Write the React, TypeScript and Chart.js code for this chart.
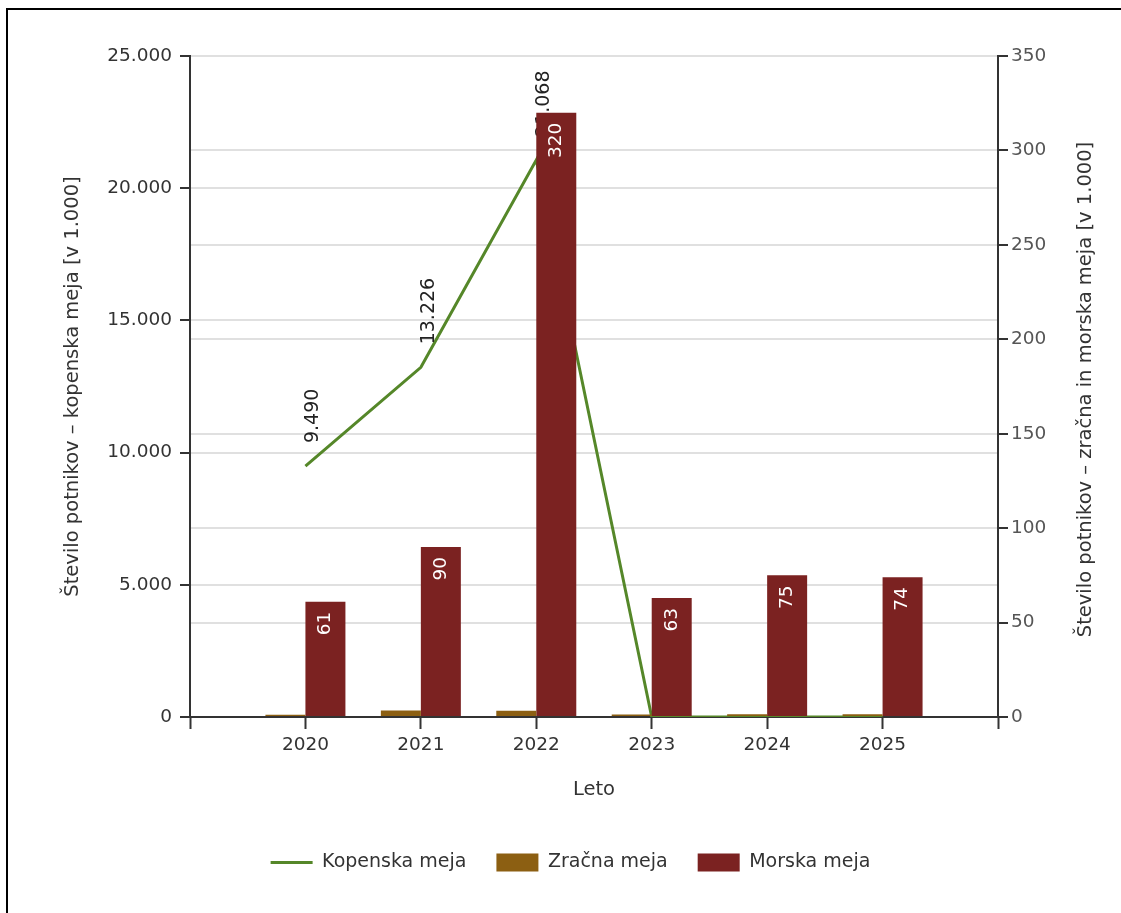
import React, { useEffect, useRef } from 'react';
import { Chart, registerables } from 'chart.js';

Chart.register(...registerables);

// ---- data ----
const years = [2020, 2021, 2022, 2023, 2024, 2025];
const kopenska = [9490, 13226, 21068, 0, 0, 0];
const zracna = [1.2, 3.4, 3.3, 1.3, 1.4, 1.4];
const morska = [61, 90, 320, 63, 75, 74];
const leftAxisMax = 25000;
const leftAxisStep = 5000;
const rightAxisMax = 350;
const rightAxisStep = 50;

const seriesNames = ['Kopenska meja', 'Zračna meja', 'Morska meja'];
const xTitle = 'Leto';
const leftTitle = 'Število potnikov – kopenska meja [v 1.000]';
const rightTitle = 'Število potnikov – zračna in morska meja [v 1.000]';

const FONT = '"DejaVu Sans", Verdana, sans-serif';
const fmt = (n: number) => String(n).replace(/\B(?=(\d{3})+(?!\d))/g, '.');

const labelsPlugin = {
  id: 'customLabels',
  afterDatasetDraw(chart: any, args: any) {
    const ds = chart.data.datasets[args.index];
    if (ds.label !== seriesNames[0]) return;
    const ctx = chart.ctx;
    ctx.save();
    ctx.font = `19px ${FONT}`;
    ctx.fillStyle = '#222';
    ctx.textAlign = 'left';
    ctx.textBaseline = 'middle';
    args.meta.data.forEach((pt: any, i: number) => {
      const v = kopenska[i];
      if (!v) return;
      ctx.save();
      ctx.translate(pt.x + 8, pt.y - 23);
      ctx.rotate(-Math.PI / 2);
      ctx.fillText(fmt(v), 0, 0);
      ctx.restore();
    });
    ctx.restore();
  },
  afterDatasetsDraw(chart: any) {
    const ctx = chart.ctx;
    const idx = chart.data.datasets.findIndex((d: any) => d.label === seriesNames[2]);
    const meta = chart.getDatasetMeta(idx);
    ctx.save();
    ctx.font = `18.5px ${FONT}`;
    ctx.fillStyle = '#ffffff';
    ctx.textAlign = 'right';
    ctx.textBaseline = 'middle';
    meta.data.forEach((bar: any, i: number) => {
      ctx.save();
      ctx.translate(bar.x, bar.y + 10);
      ctx.rotate(-Math.PI / 2);
      ctx.fillText(String(morska[i]), 0, 0);
      ctx.restore();
    });
    ctx.restore();

    // right axis title (reads bottom-to-top)
    const y1 = chart.scales.y1;
    const area = chart.chartArea;
    ctx.save();
    ctx.font = `19.5px ${FONT}`;
    ctx.fillStyle = '#333';
    ctx.textAlign = 'center';
    ctx.textBaseline = 'middle';
    ctx.translate(y1.left + 88, (area.top + area.bottom) / 2 + 3);
    ctx.rotate(-Math.PI / 2);
    ctx.fillText(rightTitle, 0, 0);
    ctx.restore();
  },
};

export default function App() {
  const canvasRef = useRef<HTMLCanvasElement | null>(null);

  useEffect(() => {
    const canvas = canvasRef.current;
    if (!canvas) return;
    const tickFont = { family: FONT, size: 18.5 };
    const titleFont = { family: FONT, size: 19.5 };
    const chart = new Chart(canvas, {
      type: 'bar',
      data: {
        datasets: [
          {
            type: 'line',
            label: seriesNames[0],
            data: years.map((y, i) => ({ x: y, y: kopenska[i] })),
            yAxisID: 'y',
            borderColor: '#558729',
            backgroundColor: '#558729',
            borderWidth: 3,
            pointRadius: 0,
            tension: 0,
            order: 2,
            pointStyle: 'line',
          } as any,
          {
            type: 'bar',
            label: seriesNames[1],
            data: years.map((y, i) => ({ x: y, y: zracna[i] })),
            yAxisID: 'y1',
            backgroundColor: '#8c5f12',
            borderWidth: 0,
            order: 0,
            pointStyle: 'rect',
          } as any,
          {
            type: 'bar',
            label: seriesNames[2],
            data: years.map((y, i) => ({ x: y, y: morska[i] })),
            yAxisID: 'y1',
            backgroundColor: '#7b2221',
            borderWidth: 0,
            order: 1,
            pointStyle: 'rect',
          } as any,
        ],
      },
      options: {
        responsive: false,
        animation: false,
        devicePixelRatio: 1,
        categoryPercentage: 0.693,
        barPercentage: 1,
        layout: { padding: { left: 20, right: 0, top: 56, bottom: 31 } },
        plugins: {
          tooltip: { enabled: false },
          legend: {
            position: 'bottom',
            labels: {
              usePointStyle: true,
              pointStyleWidth: 42,
              boxHeight: 18,
              padding: 30,
              color: '#333',
              font: { family: FONT, size: 19 },
              sort: (a: any, b: any) => a.datasetIndex - b.datasetIndex,
            },
          },
        },
        scales: {
          x: {
            type: 'linear',
            min: years[0] - 1,
            max: years[years.length - 1] + 1,
            offset: false,
            grid: {
              display: true,
              drawOnChartArea: false,
              drawTicks: true,
              tickLength: 12,
              tickColor: '#333',
              tickWidth: 2,
              offset: false,
            },
            border: { display: true, color: '#333', width: 2 },
            ticks: {
              stepSize: 1,
              autoSkip: false,
              maxRotation: 0,
              padding: 5,
              color: '#333',
              font: tickFont,
              callback: (v: any) => (years.includes(Number(v)) ? String(v) : ''),
            },
            title: {
              display: true,
              text: xTitle,
              color: '#333',
              font: titleFont,
              padding: { top: 0, bottom: 21 },
            },
            afterFit: (s: any) => {
              s.height = 106;
            },
          },
          y: {
            type: 'linear',
            position: 'left',
            min: 0,
            max: leftAxisMax,
            ticks: {
              stepSize: leftAxisStep,
              padding: 8,
              color: '#333',
              font: tickFont,
              callback: (v: any) => fmt(Number(v)),
            },
            grid: { color: '#e0e0e0', lineWidth: 2, tickColor: '#333', tickLength: 10, tickWidth: 2 },
            border: { display: true, color: '#333', width: 2 },
            title: {
              display: true,
              text: leftTitle,
              color: '#333',
              font: titleFont,
              padding: { top: 41, bottom: 0 },
            },
            afterFit: (s: any) => {
              s.width = 170;
            },
          },
          y1: {
            type: 'linear',
            position: 'right',
            min: 0,
            max: rightAxisMax,
            ticks: {
              stepSize: rightAxisStep,
              padding: 3,
              color: '#555',
              font: tickFont,
            },
            grid: { color: '#e0e0e0', lineWidth: 2, tickColor: '#333', tickLength: 10, tickWidth: 2 },
            border: { display: true, color: '#333', width: 2 },
            afterFit: (s: any) => {
              s.width = 123;
            },
          },
        },
      } as any,
      plugins: [labelsPlugin],
    });
    return () => chart.destroy();
  }, []);

  return (
    <div
      style={{
        position: 'fixed',
        left: 0,
        top: 0,
        width: 1121,
        height: 913,
        background: '#fff',
        overflow: 'hidden',
      }}
    >
      <canvas
        ref={canvasRef}
        width={1121}
        height={913}
        style={{ position: 'absolute', left: 0, top: 0, width: 1121, height: 913, display: 'block' }}
      />
      <div
        style={{
          position: 'absolute',
          left: 6,
          top: 8,
          width: 1121 - 6,
          height: 913 - 8,
          borderTop: '2px solid #000',
          borderLeft: '2px solid #000',
          boxSizing: 'border-box',
          pointerEvents: 'none',
        }}
      />
    </div>
  );
}
